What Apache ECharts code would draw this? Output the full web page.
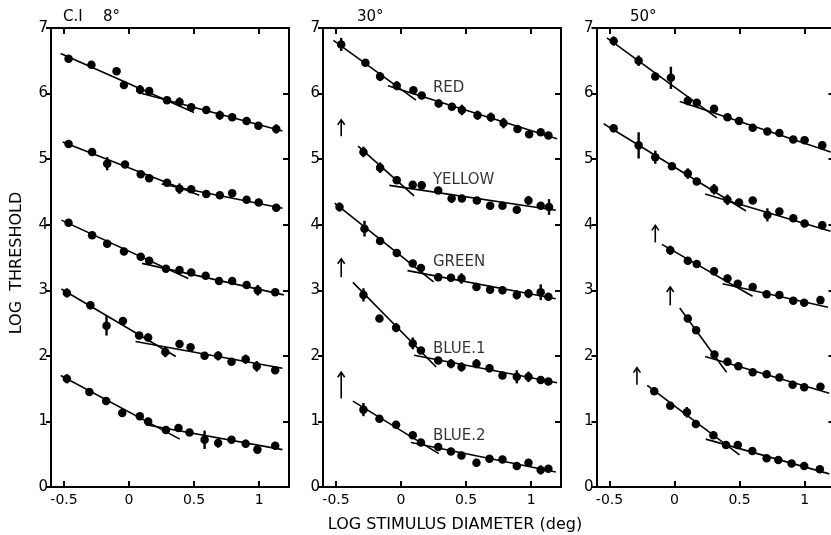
<!DOCTYPE html>
<html>
<head>
<meta charset="utf-8">
<script src="https://cdn.jsdelivr.net/npm/echarts@6/dist/echarts.min.js"></script>
<style>
html,body{margin:0;padding:0;background:#fff;}
#chart{width:831px;height:535px;}
</style>
</head>
<body>
<div id="chart"></div>
<script>
// ---- tick labels / panel titles ----
const xTicks = [-0.5, 0, 0.5, 1];
const panelTitles = ['8°', '30°', '50°'];
const curveNames = ['RED', 'YELLOW', 'GREEN', 'BLUE.1', 'BLUE.2'];
// label anchors for curve names (panel 2, data coords: x, y)
const curveLabelPos = [[0.245, 6.08], [0.245, 4.68], [0.245, 3.43], [0.245, 2.10], [0.245, 0.78]];

// ---- data: [log diameter, log threshold, error half-length] ----
// Panel 1: C.I 8°
const p1Red = [[-0.465,6.53,0],[-0.289,6.44,0],[-0.096,6.34,0],[-0.039,6.13,0.05],[0.085,6.06,0.07],[0.155,6.04,0],[0.292,5.90,0],[0.388,5.87,0.07],[0.478,5.79,0],[0.594,5.75,0],[0.698,5.67,0.07],[0.793,5.64,0],[0.904,5.58,0],[0.995,5.51,0],[1.132,5.46,0.07]];
const p1Yellow = [[-0.465,5.23,0],[-0.284,5.11,0],[-0.168,4.93,0.1],[-0.031,4.92,0],[0.09,4.77,0],[0.155,4.71,0],[0.292,4.64,0],[0.388,4.55,0.08],[0.478,4.54,0],[0.594,4.47,0],[0.698,4.45,0],[0.793,4.48,0],[0.904,4.38,0],[0.997,4.34,0],[1.132,4.26,0]];
const p1Green = [[-0.465,4.03,0],[-0.284,3.84,0],[-0.168,3.71,0],[-0.039,3.59,0],[0.09,3.51,0],[0.155,3.45,0],[0.284,3.33,0],[0.388,3.31,0],[0.478,3.27,0],[0.589,3.22,0],[0.692,3.14,0],[0.793,3.14,0],[0.904,3.08,0],[0.99,3.0,0.08],[1.124,2.97,0]];
const p1Blue1 = [[-0.478,2.96,0.07],[-0.297,2.77,0.06],[-0.173,2.46,0.15],[-0.047,2.53,0],[0.078,2.31,0],[0.147,2.28,0.06],[0.279,2.06,0.08],[0.388,2.18,0],[0.473,2.13,0],[0.581,2.0,0],[0.685,2.0,0.07],[0.788,1.91,0],[0.897,1.95,0.07],[0.982,1.84,0.08],[1.124,1.78,0]];
const p1Blue2 = [[-0.478,1.65,0.07],[-0.305,1.45,0],[-0.176,1.31,0],[-0.052,1.13,0.05],[0.083,1.08,0],[0.147,1.0,0],[0.284,0.87,0],[0.38,0.90,0],[0.465,0.83,0],[0.581,0.72,0.14],[0.685,0.67,0.07],[0.788,0.72,0],[0.897,0.66,0.06],[0.987,0.57,0.06],[1.124,0.63,0]];
// fitted segments: [x1, y1, x2, y2]
const p1RedFit = [[-0.526,6.61,0.5,5.71],[0.10,6.0,1.18,5.43]];
const p1YellowFit = [[-0.51,5.26,0.54,4.45],[0.25,4.62,1.18,4.25]];
const p1GreenFit = [[-0.52,4.07,0.455,3.18],[0.10,3.41,1.19,2.93]];
const p1Blue1Fit = [[-0.52,3.02,0.36,1.99],[0.05,2.22,1.18,1.81]];
const p1Blue2Fit = [[-0.525,1.70,0.39,0.73],[0.13,0.95,1.18,0.57]];

// Panel 2: 30°
const p2Red = [[-0.46,6.75,0.1],[-0.274,6.47,0],[-0.161,6.26,0.07],[-0.033,6.12,0.07],[0.095,6.05,0],[0.159,5.97,0],[0.289,5.85,0.06],[0.391,5.80,0],[0.468,5.75,0.08],[0.588,5.67,0.07],[0.691,5.64,0.07],[0.788,5.55,0.08],[0.895,5.46,0],[0.985,5.38,0],[1.074,5.41,0],[1.133,5.36,0]];
const p2Yellow = [[-0.289,5.11,0.08],[-0.161,4.87,0.08],[-0.033,4.68,0.06],[0.09,4.61,0],[0.159,4.60,0.06],[0.286,4.52,0],[0.389,4.40,0.07],[0.468,4.40,0],[0.583,4.37,0],[0.685,4.29,0],[0.78,4.29,0],[0.89,4.23,0],[0.98,4.37,0.07],[1.074,4.29,0],[1.138,4.27,0.12]];
const p2Green = [[-0.473,4.27,0.07],[-0.281,3.94,0.12],[-0.161,3.75,0],[-0.033,3.57,0],[0.09,3.41,0],[0.153,3.34,0],[0.286,3.20,0],[0.384,3.19,0],[0.465,3.18,0.08],[0.58,3.05,0],[0.685,3.01,0],[0.78,3.0,0.06],[0.89,2.93,0.07],[0.98,2.95,0.07],[1.074,2.97,0.12],[1.133,2.90,0]];
const p2Blue1 = [[-0.289,2.93,0.1],[-0.166,2.57,0],[-0.038,2.43,0.07],[0.09,2.19,0.09],[0.153,2.08,0],[0.286,1.93,0],[0.384,1.88,0.07],[0.465,1.83,0.07],[0.58,1.88,0.07],[0.68,1.81,0.06],[0.78,1.70,0],[0.89,1.68,0.1],[0.98,1.68,0.08],[1.074,1.63,0],[1.133,1.61,0.05]];
const p2Blue2 = [[-0.289,1.18,0.1],[-0.166,1.04,0],[-0.038,0.95,0],[0.09,0.79,0],[0.153,0.68,0],[0.286,0.61,0],[0.384,0.54,0],[0.465,0.48,0],[0.58,0.37,0.06],[0.68,0.43,0],[0.78,0.42,0],[0.89,0.32,0],[0.98,0.37,0],[1.074,0.26,0.07],[1.133,0.28,0]];
const p2RedFit = [[-0.52,6.81,0.115,5.90],[-0.10,6.12,1.20,5.31]];
const p2YellowFit = [[-0.33,5.20,0.10,4.44],[-0.09,4.60,1.19,4.22]];
const p2GreenFit = [[-0.51,4.33,0.25,3.13],[0.05,3.30,1.19,2.87]];
const p2Blue1Fit = [[-0.37,3.12,0.27,1.83],[0.10,2.01,1.20,1.59]];
const p2Blue2Fit = [[-0.37,1.31,0.29,0.51],[0.077,0.68,1.19,0.23]];

// Panel 3: 50°
const p3Red = [[-0.468,6.80,0.07],[-0.276,6.50,0.08],[-0.148,6.26,0],[-0.028,6.24,0.17],[0.102,5.89,0.07],[0.171,5.86,0],[0.304,5.77,0],[0.407,5.64,0],[0.496,5.58,0],[0.601,5.48,0],[0.714,5.42,0],[0.806,5.40,0],[0.913,5.30,0],[1.0,5.29,0],[1.136,5.21,0]];
const p3Yellow = [[-0.468,5.47,0.06],[-0.276,5.21,0.2],[-0.148,5.03,0.1],[-0.020,4.89,0],[0.102,4.78,0.08],[0.171,4.66,0],[0.304,4.54,0.08],[0.407,4.38,0.08],[0.496,4.34,0],[0.601,4.37,0],[0.714,4.15,0.1],[0.806,4.20,0],[0.913,4.10,0],[1.0,4.02,0],[1.136,3.99,0]];
const p3Green = [[-0.033,3.61,0.07],[0.102,3.45,0],[0.171,3.40,0],[0.304,3.29,0.06],[0.407,3.18,0],[0.486,3.10,0],[0.601,3.05,0],[0.708,2.94,0],[0.806,2.93,0],[0.913,2.84,0],[0.997,2.81,0],[1.122,2.85,0]];
const p3Blue1 = [[0.102,2.57,0],[0.166,2.39,0],[0.307,2.02,0.05],[0.407,1.91,0],[0.491,1.84,0],[0.601,1.75,0],[0.708,1.72,0],[0.806,1.67,0],[0.908,1.56,0],[0.997,1.52,0],[1.122,1.53,0]];
const p3Blue2 = [[-0.156,1.46,0],[-0.033,1.24,0],[0.095,1.14,0.08],[0.164,0.96,0],[0.299,0.79,0.05],[0.396,0.64,0],[0.486,0.64,0],[0.598,0.55,0],[0.708,0.44,0],[0.798,0.41,0],[0.90,0.36,0],[0.997,0.32,0],[1.117,0.27,0]];
const p3RedFit = [[-0.52,6.85,0.325,5.63],[0.04,5.88,1.20,5.11]];
const p3YellowFit = [[-0.545,5.54,0.55,4.21],[0.235,4.47,1.20,3.90]];
const p3GreenFit = [[-0.097,3.70,0.60,2.91],[0.37,3.10,1.18,2.74]];
const p3Blue1Fit = [[0.04,2.73,0.40,1.75],[0.235,1.99,1.19,1.43]];
const p3Blue2Fit = [[-0.21,1.55,0.50,0.49],[0.24,0.73,1.19,0.20]];

// "↑" arrows: [x, yFrom, yTo]
const p2Arrows = [[-0.46,5.35,5.60],[-0.46,3.20,3.48],[-0.46,1.35,1.75]];
const p3Arrows = [[-0.148,3.73,3.99],[-0.033,2.77,3.05],[-0.289,1.56,1.82]];

// ---- layout ----
const FONT = 'DejaVu Sans';
const gridLefts = [51, 323, 596.5];
const GRID_TOP = 28, GRID_H = 459, GRID_W = 238;
const X_MIN = -0.6, X_MAX = 1.23;

const panels = [
  { pts: [p1Red, p1Yellow, p1Green, p1Blue1, p1Blue2], fits: [p1RedFit, p1YellowFit, p1GreenFit, p1Blue1Fit, p1Blue2Fit], arrows: [] },
  { pts: [p2Red, p2Yellow, p2Green, p2Blue1, p2Blue2], fits: [p2RedFit, p2YellowFit, p2GreenFit, p2Blue1Fit, p2Blue2Fit], arrows: p2Arrows },
  { pts: [p3Red, p3Yellow, p3Green, p3Blue1, p3Blue2], fits: [p3RedFit, p3YellowFit, p3GreenFit, p3Blue1Fit, p3Blue2Fit], arrows: p3Arrows }
];

const grid = [], xAxis = [], yAxis = [], series = [];
const axisLineStyle = { color: '#000', width: 2 };

panels.forEach((pn, i) => {
  grid.push({ left: gridLefts[i], top: GRID_TOP, width: GRID_W, height: GRID_H, outerBoundsMode: 'none', containLabel: false });
  // bottom x
  xAxis.push({
    type: 'value', gridIndex: i, position: 'bottom', min: X_MIN, max: X_MAX,
    axisLine: { show: true, onZero: false, lineStyle: axisLineStyle },
    axisTick: { show: true, inside: true, length: 6, customValues: xTicks, lineStyle: { color: '#000', width: 2 } },
    axisLabel: { show: true, customValues: xTicks, margin: 6, color: '#000', fontFamily: FONT, fontSize: 14,
      formatter: v => (v === 0 ? '0' : String(v)) },
    splitLine: { show: false }
  });
  // top x
  xAxis.push({
    type: 'value', gridIndex: i, position: 'top', min: X_MIN, max: X_MAX,
    axisLine: { show: true, onZero: false, lineStyle: axisLineStyle },
    axisTick: { show: true, inside: true, length: 6, customValues: xTicks, lineStyle: { color: '#000', width: 2 } },
    axisLabel: { show: false },
    splitLine: { show: false }
  });
  // left y
  yAxis.push({
    type: 'value', gridIndex: i, position: 'left', min: 0, max: 7, interval: 1,
    axisLine: { show: true, onZero: false, lineStyle: axisLineStyle },
    axisTick: { show: true, inside: false, length: 5, lineStyle: { color: '#000', width: 2 } },
    axisLabel: { show: true, margin: 3, color: '#000', fontFamily: FONT, fontSize: 15 },
    splitLine: { show: false }
  });
  // right y
  yAxis.push({
    type: 'value', gridIndex: i, position: 'right', min: 0, max: 7, interval: 1,
    axisLine: { show: true, onZero: false, lineStyle: axisLineStyle },
    axisTick: { show: true, inside: true, length: 6, lineStyle: { color: '#000', width: 2 } },
    axisLabel: { show: false },
    splitLine: { show: false }
  });

  const xi = 2 * i, yi = 2 * i;
  pn.fits.forEach((segs, c) => {
    segs.forEach((s, k) => {
      series.push({
        type: 'line', xAxisIndex: xi, yAxisIndex: yi, name: curveNames[c] + ' fit ' + (k + 1),
        data: [[s[0], s[1]], [s[2], s[3]]], symbol: 'none', silent: true,
        lineStyle: { color: '#000', width: 1.6 }, z: 2
      });
    });
  });
  pn.pts.forEach((pts, c) => {
    series.push({
      type: 'custom', xAxisIndex: xi, yAxisIndex: yi, name: curveNames[c] + ' err',
      data: pts, encode: { x: 0, y: 1 }, z: 3, silent: true,
      renderItem: (params, api) => {
        const x = api.value(0), y = api.value(1), e = api.value(2);
        if (!e) return null;
        const a = api.coord([x, y - e]), b = api.coord([x, y + e]);
        return { type: 'line', shape: { x1: a[0], y1: a[1], x2: b[0], y2: b[1] }, style: { stroke: '#000', lineWidth: 2.4 } };
      }
    });
    series.push({
      type: 'scatter', xAxisIndex: xi, yAxisIndex: yi, name: curveNames[c],
      data: pts.map(p => [p[0], p[1]]), symbol: 'circle', symbolSize: 8.5,
      itemStyle: { color: '#000', opacity: 1 }, z: 4, silent: true
    });
  });
  if (pn.arrows.length) {
    series.push({
      type: 'custom', xAxisIndex: xi, yAxisIndex: yi, name: 'arrows',
      data: pn.arrows, encode: { x: 0, y: [1, 2] }, z: 5, silent: true,
      renderItem: (params, api) => {
        const x = api.value(0);
        const a = api.coord([x, api.value(1)]), b = api.coord([x, api.value(2)]);
        return { type: 'group', children: [
          { type: 'line', shape: { x1: a[0], y1: a[1], x2: b[0], y2: b[1] }, style: { stroke: '#000', lineWidth: 1.6 } },
          { type: 'polyline', shape: { points: [[b[0] - 3.5, b[1] + 5], [b[0], b[1]], [b[0] + 3.5, b[1] + 5]] }, style: { stroke: '#000', lineWidth: 1.6, fill: null } }
        ] };
      }
    });
  }
});

// curve name labels in panel 2
series.push({
  type: 'scatter', xAxisIndex: 2, yAxisIndex: 2, name: 'curve labels',
  data: curveLabelPos.map((p, i) => ({ value: p, name: curveNames[i] })),
  symbolSize: 0, silent: true, z: 6,
  label: { show: true, position: 'right', distance: 0, formatter: p => p.name,
    color: '#000', fontFamily: FONT, fontSize: 15 }
});

const option = {
  backgroundColor: '#fff',
  animation: false,
  grid, xAxis, yAxis, series,
  graphic: [
    { type: 'text', left: 63, top: 10, style: { text: 'C.I', font: '15px "DejaVu Sans"', fill: '#000' } },
    { type: 'text', left: 103, top: 10, style: { text: panelTitles[0], font: '15px "DejaVu Sans"', fill: '#000' } },
    { type: 'text', left: 357, top: 10, style: { text: panelTitles[1], font: '15px "DejaVu Sans"', fill: '#000' } },
    { type: 'text', left: 630, top: 10, style: { text: panelTitles[2], font: '15px "DejaVu Sans"', fill: '#000' } },
    { type: 'text', x: 17, y: 263, rotation: Math.PI / 2,
      style: { text: 'LOG  THRESHOLD', font: '16px "DejaVu Sans"', fill: '#000', textAlign: 'center', textVerticalAlign: 'middle' } },
    { type: 'text', x: 455, y: 525,
      style: { text: 'LOG STIMULUS DIAMETER (deg)', font: '16px "DejaVu Sans"', fill: '#000', textAlign: 'center', textVerticalAlign: 'middle' } }
  ]
};

const chart = echarts.init(document.getElementById('chart'), null, { renderer: 'canvas' });
chart.setOption(option);
</script>
</body>
</html>
